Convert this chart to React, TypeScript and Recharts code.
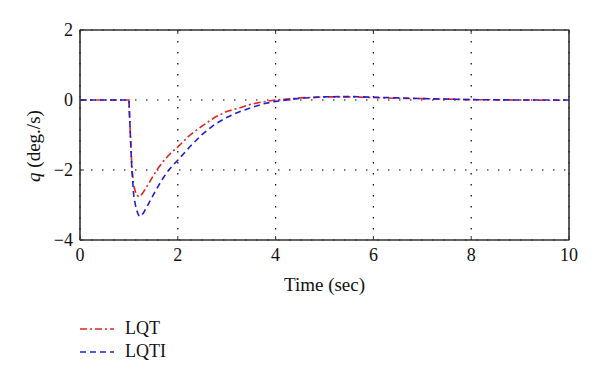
import React from "react";
import {
  LineChart,
  Line,
  XAxis,
  YAxis,
  CartesianGrid,
  ReferenceArea,
  Label,
} from "recharts";

const times = [0, 1.0, 1.03, 1.06, 1.1, 1.15, 1.2, 1.24, 1.3, 1.4, 1.5, 1.6, 1.7, 1.8, 1.9, 2.0, 2.25, 2.5, 2.75, 3.0, 3.25, 3.5, 3.75, 4.0, 4.5, 5.0, 5.5, 6.0, 6.5, 7.0, 8.0, 9.0, 10];
const lqt = [0, 0, -1.0, -1.9, -2.45, -2.7, -2.76, -2.74, -2.62, -2.4, -2.16, -1.94, -1.76, -1.6, -1.46, -1.34, -1.0, -0.74, -0.5, -0.33, -0.23, -0.12, -0.05, 0.0, 0.06, 0.09, 0.09, 0.07, 0.05, 0.04, 0.01, 0.0, -0.01];
const lqti = [0, 0, -1.0, -2.0, -2.75, -3.12, -3.3, -3.33, -3.22, -2.97, -2.71, -2.46, -2.23, -2.03, -1.86, -1.72, -1.33, -0.98, -0.7, -0.5, -0.34, -0.22, -0.11, -0.04, 0.05, 0.09, 0.1, 0.08, 0.06, 0.04, 0.01, 0.0, 0.0];
const xTicks = [0, 2, 4, 6, 8, 10];
const yTicks = [-4, -2, 0, 2];
const seriesNames = ["LQT", "LQTI"];

const data = times.map((t, i) => ({ t, lqt: lqt[i], lqti: lqti[i] }));

const FONT = "'Liberation Serif', 'DejaVu Serif', serif";
const RED = "#e52421";
const BLUE = "#1f1fd6";
const RED_DASH = "7 3 2 3";
const BLUE_DASH = "6 4";
const AXIS = "#333";

const fmtNum = (v: number) => String(v).replace("-", "\u2212");

const YLabel = (props: any) => {
  const vb = props.viewBox || {};
  const x = vb.x + 33;
  const y = vb.y + vb.height / 2 + 11;
  return (
    <text
      x={x}
      y={y}
      transform={`rotate(-90, ${x}, ${y})`}
      textAnchor="middle"
      dominantBaseline="central"
      fontFamily={FONT}
      fontSize={19}
      fill="#111"
    >
      <tspan fontStyle="italic">q</tspan>
      <tspan> (deg./s)</tspan>
    </text>
  );
};

const XLabel = (props: any) => {
  const vb = props.viewBox || {};
  return (
    <text
      x={vb.x + vb.width / 2}
      y={vb.y + 51}
      textAnchor="middle"
      fontFamily={FONT}
      fontSize={19}
      fill="#111"
    >
      Time (sec)
    </text>
  );
};

export default function App() {
  return (
    <div style={{ position: "absolute", left: 0, top: 0, width: 600, height: 385, background: "#fff" }}>
      <LineChart
        width={600}
        height={385}
        data={data}
        margin={{ top: 29, right: 30, left: 0, bottom: 100 }}
      >
        <CartesianGrid
          xAxisId="b"
          yAxisId="l"
          stroke="#000"
          strokeDasharray="1.5 9.5"
          strokeWidth={1.2}
        />
        <XAxis
          xAxisId="b"
          dataKey="t"
          type="number"
          domain={[0, 10]}
          ticks={xTicks}
          height={45}
          tickSize={-4}
          tickMargin={12}
          axisLine={{ stroke: AXIS }}
          tickLine={{ stroke: AXIS }}
          tick={{ fill: "#111", fontFamily: FONT, fontSize: 18 }}
        >
          <Label content={<XLabel />} />
        </XAxis>
        <XAxis
          xAxisId="top"
          dataKey="t"
          type="number"
          orientation="top"
          domain={[0, 10]}
          ticks={xTicks}
          height={1}
          tickSize={-4}
          tickFormatter={() => ""}
          axisLine={{ stroke: AXIS }}
          tickLine={{ stroke: AXIS }}
        />
        <YAxis
          yAxisId="l"
          type="number"
          domain={[-4, 2]}
          ticks={yTicks}
          width={80}
          tickSize={-4}
          tickMargin={11}
          tickFormatter={fmtNum}
          axisLine={{ stroke: AXIS }}
          tickLine={{ stroke: AXIS }}
          tick={{ fill: "#111", fontFamily: FONT, fontSize: 18 }}
        >
          <Label content={<YLabel />} />
        </YAxis>
        <YAxis
          yAxisId="r"
          type="number"
          orientation="right"
          domain={[-4, 2]}
          ticks={yTicks}
          width={1}
          tickSize={-4}
          tickFormatter={() => ""}
          axisLine={{ stroke: AXIS }}
          tickLine={{ stroke: AXIS }}
        />
        <ReferenceArea
          xAxisId="b"
          yAxisId="l"
          x1={0}
          x2={10}
          y1={-4}
          y2={2}
          fill="none"
          fillOpacity={0}
          stroke={AXIS}
          strokeWidth={1.2}
        />
        <Line
          xAxisId="b"
          yAxisId="l"
          dataKey="lqt"
          name={seriesNames[0]}
          type="linear"
          stroke={RED}
          strokeWidth={1.6}
          strokeDasharray={RED_DASH}
          dot={false}
          activeDot={false}
          isAnimationActive={false}
        />
        <Line
          xAxisId="b"
          yAxisId="l"
          dataKey="lqti"
          name={seriesNames[1]}
          type="linear"
          stroke={BLUE}
          strokeWidth={1.6}
          strokeDasharray={BLUE_DASH}
          dot={false}
          activeDot={false}
          isAnimationActive={false}
        />
      </LineChart>
      <div style={{ position: "absolute", left: 80, top: 317, fontFamily: FONT, fontSize: 18, color: "#111" }}>
        {[
          { name: seriesNames[0], color: RED, dash: RED_DASH },
          { name: seriesNames[1], color: BLUE, dash: BLUE_DASH },
        ].map((s) => (
          <div key={s.name} style={{ display: "flex", alignItems: "center", height: 23 }}>
            <svg width={36} height={10} style={{ display: "block" }}>
              <line x1={0} y1={5} x2={34} y2={5} stroke={s.color} strokeWidth={1.6} strokeDasharray={s.dash} />
            </svg>
            <span style={{ marginLeft: 9, lineHeight: "23px" }}>{s.name}</span>
          </div>
        ))}
      </div>
    </div>
  );
}
